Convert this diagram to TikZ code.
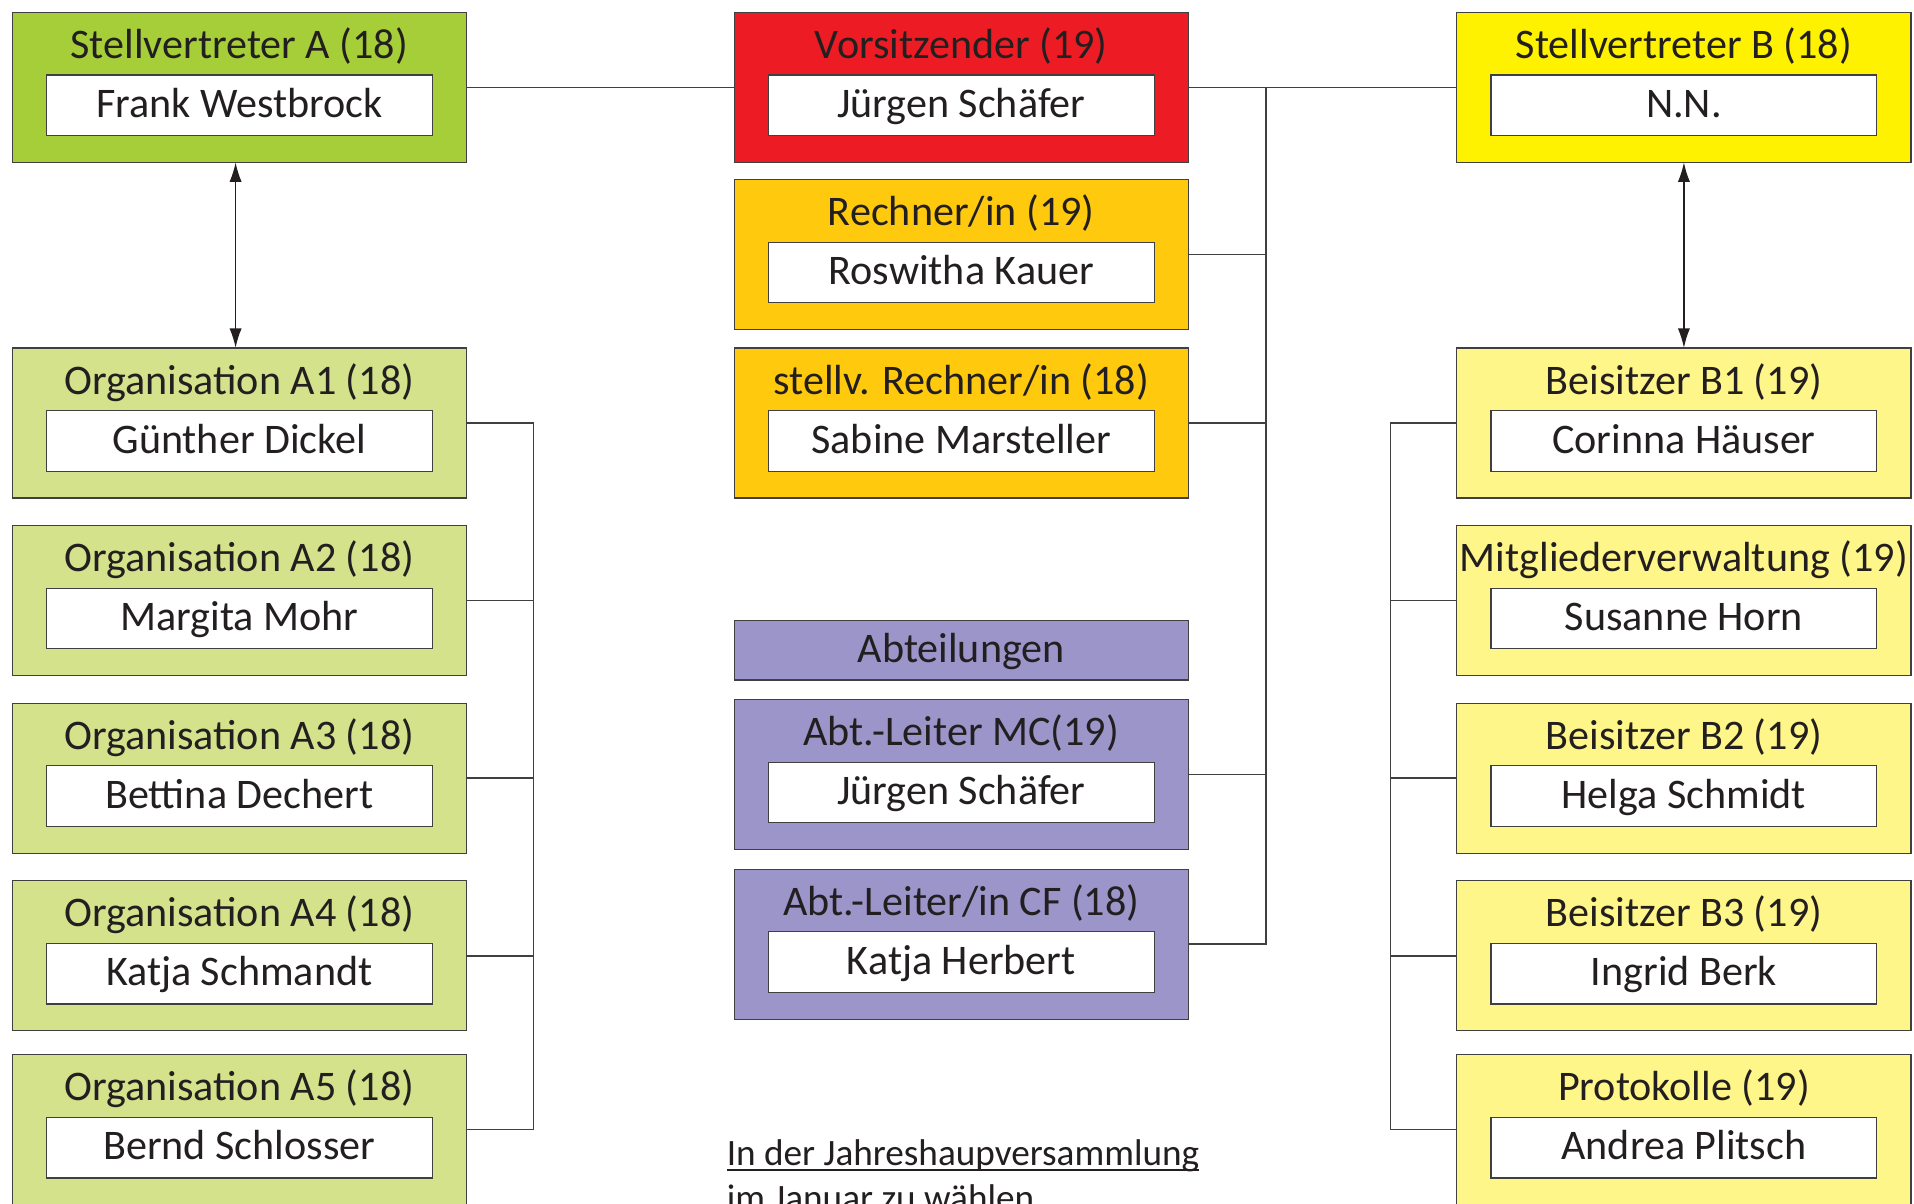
\documentclass[tikz,border=0pt]{standalone}
\usepackage{fontspec}
\setmainfont{Carlito}
\usetikzlibrary{arrows.meta}
\definecolor{stvgruen}{HTML}{A6CE39}
\definecolor{orggruen}{HTML}{D3E28B}
\definecolor{vorsrot}{HTML}{ED1C24}
\definecolor{rechorange}{HTML}{FFC90E}
\definecolor{stvgelb}{HTML}{FFF200}
\definecolor{beigelb}{HTML}{FFF68A}
\definecolor{abtlila}{HTML}{9B95C9}
\definecolor{rahmen}{HTML}{404040}
\definecolor{schrift}{HTML}{231F20}
\newcommand\strich[1]{\setbox0=\hbox{#1}\rlap{\rule[-0.14em]{\wd0}{0.05em}}\box0}

\begin{document}
\begin{tikzpicture}
  [
    x=0.5pt, y=-0.5pt,
    font=\fontsize{17.25}{20}\selectfont,
    >={Latex[length=8pt, width=5pt]},
    amt/.style =
      {draw=rahmen, line width=0.5pt, minimum width=186pt, minimum height=61.5pt,
       inner sep=0pt, outer sep=0pt, text=schrift},
    titel/.style = {anchor=base, inner sep=0pt, text=schrift},
    person/.style =
      {draw=rahmen, fill=white, line width=0.5pt, minimum width=158pt, minimum height=24.8pt,
       inner sep=0pt, text=schrift, text height=12.94pt, text depth=3.02pt},
    linie/.style = {draw=rahmen, line width=0.6pt},
    pfeil/.style = {draw=schrift, line width=0.6pt, <->},
    fussnote/.style = {anchor=base west, inner sep=0pt, text=schrift,
      font=\fontsize{15.25}{18}\selectfont}
  ]
  \path [use as bounding box, fill=white] (0, 0) rectangle (1568, 986);
  \clip (0, 0) rectangle (1568, 986);

  % linke Spalte
  \node [amt, fill=stvgruen] at (196, 71.5) (stva) {};
  \node [titel] at (196, 47.8) (stva-t) {Stellvertreter A (18)};
  \node [person] at (196, 86.2) (stva-p) {Frank Westbrock};

  \node [amt, fill=orggruen] at (196, 346.5) (oa1) {};
  \node [titel] at (196, 322.8) (oa1-t) {Organisation A1 (18)};
  \node [person] at (196, 361.2) (oa1-p) {Günther Dickel};

  \node [amt, fill=orggruen] at (196, 492) (oa2) {};
  \node [titel] at (196, 468.3) (oa2-t) {Organisation A2 (18)};
  \node [person] at (196, 506.7) (oa2-p) {Margita Mohr};

  \node [amt, fill=orggruen] at (196, 637.5) (oa3) {};
  \node [titel] at (196, 613.8) (oa3-t) {Organisation A3 (18)};
  \node [person] at (196, 652.2) (oa3-p) {Bettina Dechert};

  \node [amt, fill=orggruen] at (196, 783) (oa4) {};
  \node [titel] at (196, 759.3) (oa4-t) {Organisation A4 (18)};
  \node [person] at (196, 797.7) (oa4-p) {Katja Schmandt};

  \node [amt, fill=orggruen] at (196, 925.5) (oa5) {};
  \node [titel] at (196, 901.8) (oa5-t) {Organisation A5 (18)};
  \node [person] at (196, 940.2) (oa5-p) {Bernd Schlosser};

  % mittlere Spalte
  \node [amt, fill=vorsrot] at (787.5, 71.5) (vors) {};
  \node [titel] at (787.5, 47.8) (vors-t) {Vorsitzender (19)};
  \node [person] at (787.5, 86.2) (vors-p) {Jürgen Schäfer};

  \node [amt, fill=rechorange] at (787.5, 208.5) (rech) {};
  \node [titel] at (787.5, 184.8) (rech-t) {Rechner/in (19)};
  \node [person] at (787.5, 223.2) (rech-p) {Roswitha Kauer};

  \node [amt, fill=rechorange] at (787.5, 346.5) (srech) {};
  \node [titel] at (787.5, 322.8) (srech-t) {stellv. Rechner/in (18)};
  \node [person] at (787.5, 361.2) (srech-p) {Sabine Marsteller};

  \node [amt, fill=abtlila, minimum height=24.5pt, text height=12.94pt, text depth=3.02pt]
    at (787.5, 532.5) (abt) {Abteilungen};

  \node [amt, fill=abtlila] at (787.5, 634.5) (mc) {};
  \node [titel] at (787.5, 610.8) (mc-t) {Abt.-Leiter MC(19)};
  \node [person] at (787.5, 649.2) (mc-p) {Jürgen Schäfer};

  \node [amt, fill=abtlila] at (787.5, 773.5) (cf) {};
  \node [titel] at (787.5, 749.8) (cf-t) {Abt.-Leiter/in CF (18)};
  \node [person] at (787.5, 788.2) (cf-p) {Katja Herbert};

  \node [fussnote] at (595, 955) (jhv) {\strich{In der Jahreshaupversammlung}};
  \node [fussnote] at (595, 992) (jan) {im Januar zu wählen};

  % rechte Spalte
  \node [amt, fill=stvgelb] at (1379.5, 71.5) (stvb) {};
  \node [titel] at (1379.5, 47.8) (stvb-t) {Stellvertreter B (18)};
  \node [person] at (1379.5, 86.2) (stvb-p) {N.N.};

  \node [amt, fill=beigelb] at (1379.5, 346.5) (b1) {};
  \node [titel] at (1379.5, 322.8) (b1-t) {Beisitzer B1 (19)};
  \node [person] at (1379.5, 361.2) (b1-p) {Corinna Häuser};

  \node [amt, fill=beigelb] at (1379.5, 492) (mv) {};
  \node [titel] at (1379.5, 468.3) (mv-t) {Mitgliederverwaltung (19)};
  \node [person] at (1379.5, 506.7) (mv-p) {Susanne Horn};

  \node [amt, fill=beigelb] at (1379.5, 637.5) (b2) {};
  \node [titel] at (1379.5, 613.8) (b2-t) {Beisitzer B2 (19)};
  \node [person] at (1379.5, 652.2) (b2-p) {Helga Schmidt};

  \node [amt, fill=beigelb] at (1379.5, 783) (b3) {};
  \node [titel] at (1379.5, 759.3) (b3-t) {Beisitzer B3 (19)};
  \node [person] at (1379.5, 797.7) (b3-p) {Ingrid Berk};

  \node [amt, fill=beigelb] at (1379.5, 925.5) (prot) {};
  \node [titel] at (1379.5, 901.8) (prot-t) {Protokolle (19)};
  \node [person] at (1379.5, 940.2) (prot-p) {Andrea Plitsch};

  % Verbindungen
  \coordinate (busm) at (1037, 71.5);
  \coordinate (busl) at (437, 346.5);
  \coordinate (busr) at (1139, 346.5);

  \draw [linie] (stva) -- (vors);
  \draw [linie] (vors) -- (stvb);
  \draw [linie] (busm) |- (cf.east);
  \draw [linie] (rech)  -- (rech -| busm);
  \draw [linie] (srech) -- (srech -| busm);
  \draw [linie] (mc)    -- (mc -| busm);

  \draw [linie] (oa1.east) -- (busl) |- (oa5.east);
  \draw [linie] (oa2) -- (oa2 -| busl);
  \draw [linie] (oa3) -- (oa3 -| busl);
  \draw [linie] (oa4) -- (oa4 -| busl);

  \draw [linie] (b1.west) -- (busr) |- (prot.west);
  \draw [linie] (mv) -- (mv -| busr);
  \draw [linie] (b2) -- (b2 -| busr);
  \draw [linie] (b3) -- (b3 -| busr);

  \draw [pfeil] ([xshift=-1.5pt]stva.south) -- ([xshift=-1.5pt]oa1.north);
  \draw [pfeil] (stvb) -- (b1);

\end{tikzpicture}
\end{document}
